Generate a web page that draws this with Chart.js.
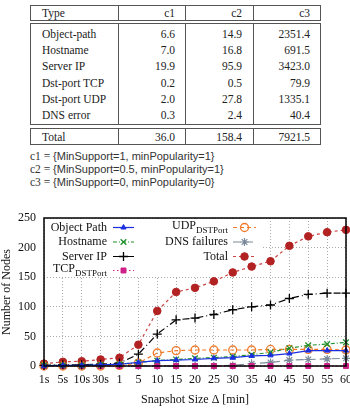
<!DOCTYPE html>
<html>
<head>
<meta charset="utf-8">
<script src="https://cdn.jsdelivr.net/npm/chart.js@4.4.0/dist/chart.umd.min.js"></script>
<style>
  html, body { margin: 0; padding: 0; width: 350px; height: 409px; overflow: hidden; background: #fff; }
  .box { position: absolute; left: 30px; width: 291px; border: 1px solid #555; box-sizing: border-box; font: 11.5px "Liberation Serif", serif; color: #222; }
  .vl { position: absolute; top: 0; bottom: 0; width: 1px; background: #555; }
  .cell { position: absolute; white-space: nowrap; line-height: 16px; }
  #note { position: absolute; left: 30px; top: 150px; font: 11px "Liberation Sans", sans-serif; color: #333; line-height: 13px; }
  #note .c { font-family: "Liberation Serif", serif; font-size: 11.5px; }
  #wrap { position: absolute; left: 0; top: 200px; width: 360px; height: 209px; }
</style>
</head>
<body>
<div id="tbl"></div>
<div id="note">
  <div><span class="c">c1 = </span>{MinSupport=1, minPopularity=1}</div>
  <div><span class="c">c2 = </span>{MinSupport=0.5, minPopularity=1}</div>
  <div><span class="c">c3 = </span>{MinSupport=0, minPopularity=0}</div>
</div>
<div id="wrap"><canvas id="nodes" width="360" height="209"></canvas></div>
<script>
// table of average node counts
const tableHead = ['Type', 'c1', 'c2', 'c3'];
const tableRows = [
  ['Object-path', '6.6', '14.9', '2351.4'],
  ['Hostname', '7.0', '16.8', '691.5'],
  ['Server IP', '19.9', '95.9', '3423.0'],
  ['Dst-port TCP', '0.2', '0.5', '79.9'],
  ['Dst-port UDP', '2.0', '27.8', '1335.1'],
  ['DNS error', '0.3', '2.4', '40.4']
];
const tableTotal = ['Total', '36.0', '158.4', '7921.5'];

// chart data
const labels = ['1s', '5s', '10s', '30s', '1', '5', '10', '15', '20', '25', '30', '35', '40', '45', '50', '55', '60'];
const objectPath = [0.5, 1, 1, 2, 3, 6, 9, 10, 11, 13, 14, 17, 18, 21, 26, 26, 26];
const hostname = [1, 1, 1, 2, 3, 6, 9, 11, 13, 14, 16, 19, 23, 30, 35, 37, 40];
const serverIP = [1, 2, 2, 3, 5, 20, 54, 78, 81, 87, 95, 100, 103, 114, 121, 123, 123];
const tcpDstPort = [0, 0, 0, 0, 0, 0, 0, 0, 0, 0, 0, 0, 0, 0, 0, 0, 0];
const udpDstPort = [0, 0, 0, 0, 1, 5, 22, 26, 27, 27, 27, 27, 28, 28, 28, 28, 27];
const dnsFailures = [0, 0, 0, 0, 0, 0, 0, 0, 0, 0, 1, 4, 6, 10, 11, 12, 13];
const total = [4, 7, 8, 11, 14, 36, 93, 125, 132, 143, 158, 168, 177, 203, 219, 226, 230];

function makeBox(top, height, rows, padTop) {
  const box = document.createElement('div');
  box.className = 'box';
  box.style.top = top + 'px';
  box.style.height = height + 'px';
  [87, 154, 222].forEach(x => {
    const v = document.createElement('div');
    v.className = 'vl';
    v.style.left = x + 'px';
    box.appendChild(v);
  });
  const rights = [144, 211, 279];
  rows.forEach((r, i) => {
    r.forEach((txt, j) => {
      const c = document.createElement('div');
      c.className = 'cell';
      c.textContent = txt;
      c.style.top = (padTop + i * 16.2) + 'px';
      if (j === 0) c.style.left = '11px';
      else c.style.right = (289 - rights[j - 1]) + 'px';
      box.appendChild(c);
    });
  });
  document.getElementById('tbl').appendChild(box);
}
makeBox(5, 16, [tableHead], -1);
makeBox(23, 102, tableRows, 2);
makeBox(128, 17, [tableTotal], -0.5);

Chart.defaults.font.family = 'Liberation Serif';
Chart.defaults.font.size = 12;
Chart.defaults.color = '#111';

// gnuplot style key: text right aligned, line sample on the right
const keyPlugin = {
  id: 'key',
  beforeDatasetsDraw(chart) {
    const ctx = chart.ctx;
    ctx.save();
    ctx.fillStyle = '#fff';
    ctx.fillRect(45, 19, 218, 58);
    ctx.restore();
  },
  afterDraw(chart) {
    const ctx = chart.ctx;
    const a = chart.chartArea;
    ctx.save();
    ctx.strokeStyle = '#000';
    ctx.lineWidth = 1.5;
    ctx.strokeRect(a.left, a.top, a.right - a.left, a.bottom - a.top);

    const rows = [27.5, 42, 56.5, 70.5];
    chart.data.datasets.forEach((ds, i) => {
      const col = i < 4 ? 0 : 1;
      const y = rows[col ? i - 4 : i];
      const right = col ? 228 : 107;
      const x0 = col ? 233 : 113;
      const x1 = col ? 256 : 134;
      const parts = ds.label.split('_');
      ctx.fillStyle = '#111';
      ctx.textBaseline = 'middle';
      ctx.font = '12px "Liberation Serif"';
      const w1 = ctx.measureText(parts[0]).width;
      let w2 = 0;
      if (parts[1]) {
        ctx.font = '9px "Liberation Serif"';
        w2 = ctx.measureText(parts[1]).width;
      }
      const sx = right - w1 - w2;
      ctx.font = '12px "Liberation Serif"';
      ctx.textAlign = 'left';
      ctx.fillText(parts[0], sx, parts[1] ? y - 2 : y);
      if (parts[1]) {
        ctx.font = '9px "Liberation Serif"';
        ctx.fillText(parts[1], sx + w1, y + 3);
      }
      ctx.strokeStyle = ds.borderColor;
      ctx.lineWidth = ds.borderWidth;
      ctx.setLineDash(ds.borderDash || []);
      ctx.beginPath();
      ctx.moveTo(x0, y);
      ctx.lineTo(x1, y);
      ctx.stroke();
      ctx.setLineDash([]);
      ctx.strokeStyle = ds.pointBorderColor;
      ctx.fillStyle = ds.pointBackgroundColor;
      ctx.lineWidth = ds.pointBorderWidth;
      Chart.helpers.drawPoint(ctx, {pointStyle: ds.pointStyle, radius: ds.pointRadius, rotation: 0, borderWidth: ds.pointBorderWidth}, (x0 + x1) / 2, y);
    });
    ctx.restore();
  }
};

const ctx = document.getElementById('nodes');

const nodesChart = new Chart(ctx, {
  type: 'line',
  data: {
    labels: labels,
    datasets: [{
      label: 'Object Path',
      data: objectPath,
      borderColor: '#1c2fe0',
      borderWidth: 1.2,
      pointStyle: 'triangle',
      pointRadius: 3,
      pointBorderWidth: 1,
      pointBorderColor: '#1c2fe0',
      pointBackgroundColor: '#1c2fe0'
    }, {
      label: 'Hostname',
      data: hostname,
      borderColor: '#1f8f2a',
      borderWidth: 1.2,
      borderDash: [4, 2, 1, 2],
      pointStyle: 'crossRot',
      pointRadius: 4,
      pointBorderWidth: 1.3,
      pointBorderColor: '#1f8f2a',
      pointBackgroundColor: '#1f8f2a'
    }, {
      label: 'Server IP',
      data: serverIP,
      borderColor: '#000',
      borderWidth: 1.2,
      borderDash: [7, 3, 1, 3],
      pointStyle: 'cross',
      pointRadius: 4.5,
      pointBorderWidth: 1.3,
      pointBorderColor: '#000',
      pointBackgroundColor: '#000'
    }, {
      label: 'TCP_DSTPort',
      data: tcpDstPort,
      borderColor: '#d0208a',
      borderWidth: 1.2,
      borderDash: [1.5, 2.5],
      pointStyle: 'rect',
      pointRadius: 3.5,
      pointBorderWidth: 1,
      pointBorderColor: '#d0208a',
      pointBackgroundColor: '#d0208a'
    }, {
      label: 'UDP_DSTPort',
      data: udpDstPort,
      borderColor: '#f07a2a',
      borderWidth: 1.2,
      borderDash: [4, 3],
      pointStyle: 'circle',
      pointRadius: 4,
      pointBorderWidth: 1.3,
      pointBorderColor: '#f07a2a',
      pointBackgroundColor: 'rgba(255,255,255,0)'
    }, {
      label: 'DNS failures',
      data: dnsFailures,
      borderColor: '#7b8a99',
      borderWidth: 1.2,
      borderDash: [8, 4],
      pointStyle: 'star',
      pointRadius: 4,
      pointBorderWidth: 1.2,
      pointBorderColor: '#7b8a99',
      pointBackgroundColor: '#7b8a99'
    }, {
      label: 'Total',
      data: total,
      borderColor: '#cc4444',
      borderWidth: 1.2,
      borderDash: [3, 3],
      pointStyle: 'circle',
      pointRadius: 3.8,
      pointBorderWidth: 1,
      pointBorderColor: '#b22222',
      pointBackgroundColor: '#b22222'
    }]
  },
  options: {
    responsive: false,
    animation: false,
    clip: false,
    layout: {padding: {top: 18, right: 14, left: 0, bottom: 0}},
    plugins: {legend: {display: false}, tooltip: {enabled: false}},
    scales: {
      x: {
        type: 'category',
        offset: false,
        grid: {color: '#aaa', lineWidth: 1, drawTicks: false},
        border: {display: false, dash: [1, 2]},
        ticks: {padding: 7, maxRotation: 0, autoSkip: false},
        title: {display: true, text: 'Snapshot Size Δ [min]', padding: {top: 0, bottom: 2}},
        afterFit(scale) { scale.height = 43; }
      },
      y: {
        min: 0,
        max: 250,
        ticks: {stepSize: 50, padding: 8},
        grid: {color: '#aaa', lineWidth: 1, drawTicks: false},
        border: {display: false, dash: [1, 2]},
        title: {display: true, text: 'Number of Nodes', padding: {top: 0, bottom: 0}},
        afterFit(scale) { scale.width = 44; }
      }
    }
  },
  plugins: [keyPlugin]
});
</script>
</body>
</html>
